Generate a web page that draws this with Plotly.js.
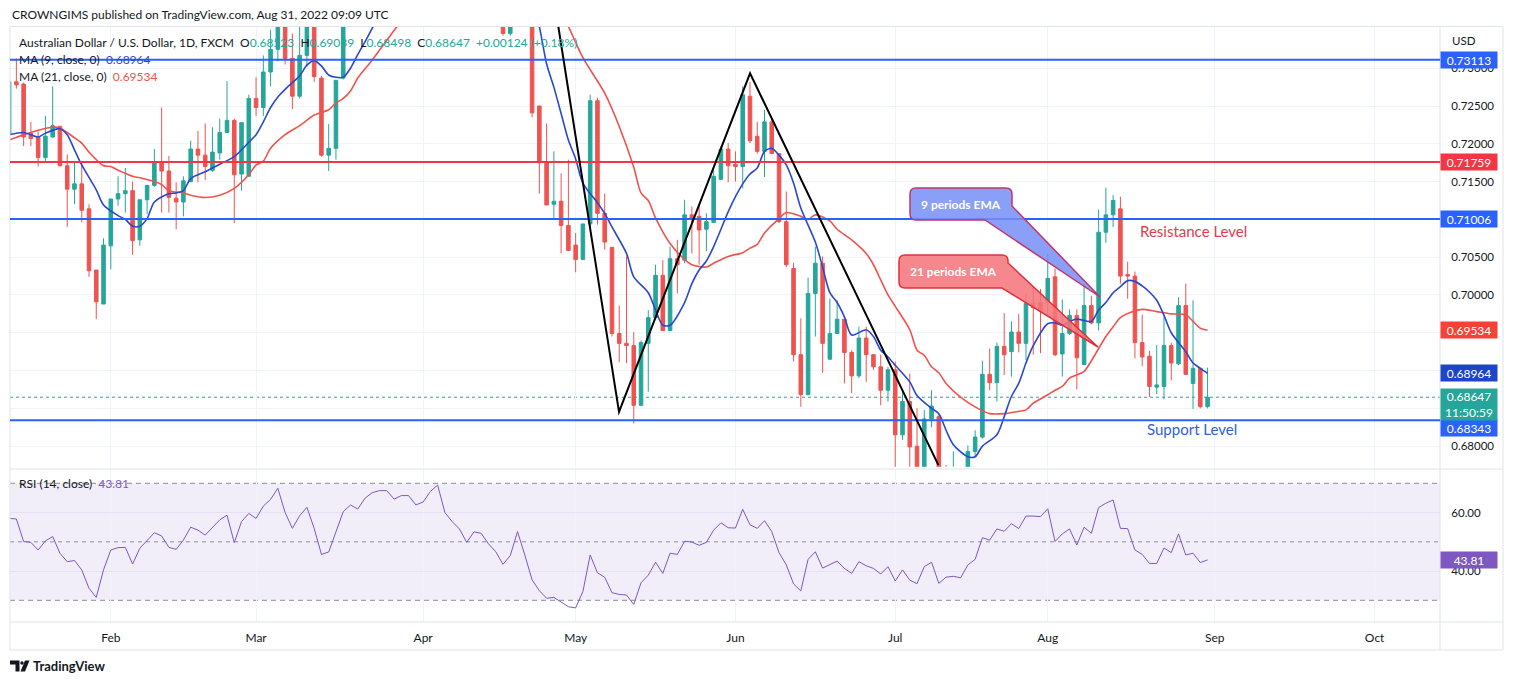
<!DOCTYPE html>
<html><head><meta charset="utf-8">
<script src="https://cdn.plot.ly/plotly-3.0.1.min.js"></script>
<style>html,body{margin:0;padding:0;background:#fff}#chart{width:1514px;height:685px}</style>
</head><body><div id="chart"></div>
<script>
// ---------- DATA ----------
const startDate = '2022-01-12', axisEndDate = '2022-10-14';
const monthNames = ['Jan','Feb','Mar','Apr','May','Jun','Jul','Aug','Sep','Oct','Nov','Dec'];
const open = [0.7212,0.7282,0.7279,0.7214,0.7209,0.7182,0.7209,0.7223,0.7171,0.7140,
0.7147,0.7114,0.7033,0.6988,0.7065,0.7127,0.7134,0.7138,0.7073,0.7126,
0.7145,0.7176,0.7164,0.7128,0.7123,0.7150,0.7193,0.7185,0.7165,0.7188,
0.7215,0.7231,0.7160,0.7157,0.7260,0.7248,0.7295,0.7325,0.7370,0.7313,
0.7263,0.7317,0.7365,0.7287,0.7185,0.7194,0.7287,0.7380,0.7400,0.7390,
0.7445,0.7455,0.7490,0.7500,0.7515,0.7510,0.7490,0.7480,0.7495,0.7570,
0.7620,0.7560,0.7490,0.7460,0.7420,0.7470,0.7455,0.7420,0.7395,0.7346,
0.7390,0.7445,0.7385,0.7250,0.7175,0.7120,0.7124,0.7092,0.7066,0.7047,
0.7094,0.7257,0.7108,0.7063,0.6949,0.6936,0.6933,0.6854,0.6936,0.6970,
0.7026,0.6953,0.7048,0.7046,0.7106,0.7104,0.7087,0.7096,0.7153,0.7193,
0.7173,0.7170,0.7263,0.7210,0.7190,0.7229,0.7187,0.7097,0.7035,0.6921,
0.6868,0.7002,0.7042,0.6915,0.6949,0.6968,0.6924,0.6893,0.6943,0.6921,
0.6905,0.6874,0.6901,0.6815,0.6859,0.6800,0.6770,0.6836,0.6839,0.6768,
0.6720,0.6758,0.6738,0.6793,0.6812,0.6895,0.6884,0.6932,0.6925,0.6951,
0.6936,0.6989,0.6990,0.6990,0.7024,0.6922,0.6949,0.6973,0.6908,0.6986,
0.6963,0.7083,0.7106,0.7114,0.7027,0.7025,0.6937,0.6919,0.6878,0.6879,
0.6933,0.6909,0.6986,0.6883,0.6903,0.68523];
const high = [0.7287,0.7313,0.7281,0.7229,0.7216,0.7237,0.7276,0.7224,0.7186,0.7175,
0.7175,0.7120,0.7033,0.7075,0.7127,0.7157,0.7168,0.7150,0.7126,0.7145,
0.7193,0.7248,0.7184,0.7149,0.7157,0.7204,0.7217,0.7227,0.7222,0.7233,
0.7283,0.7233,0.7228,0.7265,0.7288,0.7317,0.7351,0.7385,0.7440,0.7346,
0.7355,0.7385,0.7380,0.7290,0.7226,0.7284,0.7395,0.7420,0.7425,0.7460,
0.7480,0.7500,0.7510,0.7535,0.7540,0.7540,0.7505,0.7510,0.7575,0.7660,
0.7625,0.7570,0.7510,0.7470,0.7480,0.7480,0.7460,0.7430,0.7405,0.7400,
0.7460,0.7458,0.7390,0.7250,0.7227,0.7190,0.7161,0.7179,0.7082,0.7094,
0.7265,0.7261,0.7134,0.7063,0.6986,0.7051,0.6951,0.6940,0.6980,0.7040,
0.7046,0.7064,0.7073,0.7126,0.7117,0.7119,0.7108,0.7165,0.7197,0.7201,
0.7190,0.7276,0.7282,0.7229,0.7245,0.7233,0.7187,0.7137,0.7043,0.6969,
0.7023,0.7064,0.7051,0.6995,0.6993,0.6969,0.6927,0.6958,0.6958,0.6921,
0.6921,0.6905,0.6912,0.6874,0.6896,0.6850,0.6848,0.6874,0.6843,0.6775,
0.6793,0.6770,0.6801,0.6821,0.6913,0.6929,0.6937,0.6976,0.6965,0.6975,
0.7001,0.7011,0.7008,0.7054,0.7035,0.6994,0.6981,0.6981,0.7014,0.6999,
0.7113,0.7142,0.7132,0.7130,0.7044,0.7031,0.6974,0.6926,0.6934,0.6971,
0.6937,0.6997,0.7015,0.6993,0.6903,0.69039];
const low = [0.7208,0.7273,0.7197,0.7197,0.7170,0.7176,0.7208,0.7170,0.7090,0.7120,
0.7096,0.7024,0.6968,0.6988,0.7034,0.7118,0.7109,0.7053,0.7065,0.7107,
0.7143,0.7109,0.7109,0.7087,0.7104,0.7149,0.7149,0.7152,0.7163,0.7179,
0.7214,0.7095,0.7138,0.7157,0.7237,0.7237,0.7276,0.7309,0.7305,0.7246,
0.7260,0.7302,0.7282,0.7183,0.7164,0.7179,0.7285,0.7362,0.7370,0.7385,
0.7425,0.7440,0.7470,0.7460,0.7470,0.7480,0.7455,0.7460,0.7490,0.7565,
0.7545,0.7470,0.7450,0.7410,0.7400,0.7420,0.7410,0.7380,0.7343,0.7343,
0.7375,0.7375,0.7235,0.7134,0.7119,0.7099,0.7055,0.7059,0.7030,0.7046,
0.7090,0.7093,0.7060,0.6945,0.6911,0.6910,0.6830,0.6854,0.6872,0.6969,
0.6953,0.6953,0.7002,0.7042,0.7055,0.7040,0.7058,0.7096,0.7152,0.7149,
0.7150,0.7141,0.7201,0.7187,0.7156,0.7187,0.7095,0.7037,0.6912,0.6852,
0.6868,0.6945,0.6897,0.6915,0.6949,0.6883,0.6870,0.6890,0.6885,0.6901,
0.6854,0.6859,0.6763,0.6808,0.6763,0.6750,0.6760,0.6825,0.6740,0.6712,
0.6715,0.6681,0.6725,0.6786,0.6810,0.6874,0.6859,0.6894,0.6892,0.6924,
0.6914,0.6921,0.6923,0.6975,0.6919,0.6892,0.6947,0.6875,0.6907,0.6961,
0.6953,0.7069,0.7090,0.7015,0.6995,0.6916,0.6906,0.6865,0.6869,0.6862,
0.6887,0.6907,0.6894,0.6849,0.6850,0.68498];
const close = [0.7282,0.7278,0.7209,0.7207,0.7182,0.7210,0.7224,0.7171,0.7140,0.7147,
0.7112,0.7032,0.6991,0.7066,0.7127,0.7134,0.7138,0.7072,0.7126,0.7145,
0.7176,0.7164,0.7129,0.7123,0.7151,0.7193,0.7185,0.7170,0.7189,0.7215,
0.7231,0.7159,0.7228,0.7260,0.7248,0.7295,0.7325,0.7370,0.7313,0.7263,
0.7317,0.7365,0.7289,0.7185,0.7194,0.7284,0.7380,0.7400,0.7390,0.7445,
0.7455,0.7490,0.7500,0.7515,0.7510,0.7490,0.7480,0.7495,0.7570,0.7620,
0.7560,0.7490,0.7460,0.7420,0.7470,0.7455,0.7420,0.7395,0.7346,0.7390,
0.7445,0.7385,0.7241,0.7175,0.7119,0.7124,0.7092,0.7059,0.7047,0.7094,
0.7257,0.7108,0.7070,0.6949,0.6936,0.6933,0.6854,0.6937,0.6970,0.7026,
0.6953,0.7048,0.7040,0.7106,0.7101,0.7086,0.7097,0.7157,0.7193,0.7171,
0.7170,0.7265,0.7204,0.7190,0.7229,0.7187,0.7097,0.7040,0.6921,0.6868,
0.7002,0.7042,0.6936,0.6949,0.6968,0.6924,0.6893,0.6943,0.6921,0.6905,
0.6874,0.6901,0.6815,0.6859,0.6799,0.6762,0.6836,0.6853,0.6768,0.6720,
0.6758,0.6738,0.6793,0.6812,0.6895,0.6884,0.6932,0.6921,0.6951,0.6936,
0.6989,0.6983,0.6979,0.7022,0.6921,0.6949,0.6973,0.6917,0.6986,0.6963,
0.7083,0.7106,0.7125,0.7025,0.7025,0.6937,0.6918,0.6879,0.6881,0.6933,
0.6910,0.6986,0.6895,0.6903,0.68523,0.68647];
// moving averages (bar number -> value)
const ma9Bar = [0,2,4,5,7,8,9,10,12,13,15,16,17,18,19,20,22,23,24,25,27,29,31,33,34,35,36,37,38,40,41,42,43,44,45,46,47,48,49,50,51,53,55,57,59,61,63,65,67,69,71,72,73,74,75,76,77,78,79,81,82,83,85,86,88,89,90,91,93,94,95,96,97,99,100,101,102,103,104,105,106,107,108,109,111,112,113,114,115,116,118,119,120,121,122,124,125,127,128,129,130,132,133,134,136,137,138,139,140,141,143,144,145,146,147,149,150,151,152,153,154,155,156,157,158,159,160,162,163,164,165];
const ma9Val = [.7212,.7215,.7209,.7214,.7220,.7212,.7192,.7172,.7139,.7119,.7105,.7100,.7091,.7091,.7101,.7123,.7134,.7135,.7138,.7154,.7163,.7173,.7183,.7202,.7212,.7229,.7248,.7262,.7272,.7290,.7304,.7310,.7303,.7291,.7288,.7288,.7300,.7318,.7335,.7353,.7372,.7410,.7450,.7480,.7520,.7540,.7520,.7490,.7455,.7430,.7420,.7390,.7355,.7306,.7275,.7240,.7205,.7180,.7148,.7122,.7108,.7090,.7055,.7024,.7003,.6980,.6960,.6960,.6990,.7015,.7033,.7045,.7064,.7110,.7130,.7147,.7160,.7168,.7190,.7194,.7185,.7172,.7148,.7115,.7070,.7037,.7003,.6990,.6971,.6947,.6954,.6945,.6927,.6918,.6907,.6885,.6867,.6850,.6843,.6821,.6802,.6786,.6786,.6800,.6815,.6839,.6866,.6883,.6910,.6933,.6962,.6963,.6960,.6965,.6968,.6965,.6980,.6990,.7003,.7011,.7019,.7018,.7012,.7004,.6993,.6973,.6950,.6925,.6910,.6903,.68964];
const ma21Bar = [0,2,4,6,7,9,10,11,13,14,15,16,17,18,20,21,22,24,25,27,29,31,33,34,35,36,38,40,42,44,45,46,47,48,50,53,54,56,59,62,65,68,70,72,74,75,76,77,79,82,84,86,87,88,89,91,93,94,96,97,99,101,102,103,104,106,107,109,110,111,113,114,116,118,119,120,121,122,124,125,126,127,128,129,131,133,135,137,139,140,141,143,144,145,146,148,149,151,152,153,155,156,158,160,162,163,164,165];
const ma21Val = [.7205,.7212,.7218,.7222,.7221,.7208,.7201,.7189,.7171,.7170,.7165,.7161,.7157,.7155,.7150,.7146,.7138,.7135,.7132,.7129,.7132,.7141,.7159,.7172,.7177,.7194,.7212,.7224,.7238,.7245,.7254,.7260,.7270,.7287,.7311,.7350,.7363,.7390,.7430,.7460,.7475,.7470,.7455,.7435,.7408,.7390,.7372,.7355,.7314,.7267,.7223,.7169,.7135,.7125,.7102,.7068,.7047,.7040,.7037,.7042,.7051,.7056,.7062,.7067,.7082,.7101,.7109,.7104,.7100,.7106,.7098,.7087,.7073,.7055,.7040,.7020,.7000,.6985,.6954,.6927,.6920,.6905,.6897,.6883,.6865,.6852,.6843,.6843,.6846,.6848,.6857,.6868,.6874,.6879,.6890,.6899,.6913,.6945,.6958,.6970,.6979,.6981,.6978,.6975,.6974,.6965,.6956,.69534];
const rsi = [58.0,57.8,50.1,49.8,47.2,50.3,51.8,46.1,43.2,43.6,
40.4,34.1,31.0,40.4,47.2,48.0,48.1,42.4,47.8,50.3,
53.1,52.0,48.1,47.4,50.6,55.0,54.0,52.3,55.0,57.5,
59.1,49.7,56.9,59.7,58.0,62.2,64.5,68.3,60.0,54.6,
58.9,61.8,54.6,45.7,46.5,53.7,60.3,62.6,61.2,64.9,
66.8,67.5,67.5,64.6,65.8,65.8,62.6,63.6,67.2,69.4,
60.0,56.9,54.4,49.8,53.4,52.9,49.3,46.6,42.3,45.3,
53.5,45.5,37.0,33.3,30.7,31.0,29.5,27.8,27.4,33.0,
45.5,39.4,37.9,32.6,32.0,31.8,28.6,36.0,38.6,43.0,
39.2,46.1,45.7,50.2,49.9,48.8,49.8,54.0,56.5,54.8,
54.7,61.1,55.8,54.6,57.2,53.5,46.3,42.1,35.6,33.2,
44.0,46.6,41.0,42.1,43.4,40.9,39.2,43.2,41.8,40.9,
39.0,41.5,36.6,40.4,36.9,35.7,41.5,43.0,35.8,37.9,
38.2,37.7,42.1,44.0,51.4,50.6,54.4,53.6,56.2,54.5,
58.8,58.8,58.6,61.3,50.1,52.7,54.4,48.9,55.0,52.9,
61.7,63.2,64.3,54.6,54.5,47.2,45.7,42.6,42.6,47.9,
46.3,52.7,45.5,46.1,42.9,43.81];
const levelPrices = [0.73113, 0.71759, 0.71006, 0.68343];
const priceTicks = [0.68, 0.685, 0.69, 0.695, 0.70, 0.705, 0.71, 0.715, 0.72, 0.725, 0.73];
const rsiTicks = [40, 60];
const rsiLevels = [70, 50, 30];
// zig-zag drawing points (bar number, price)
const zigBar = [75.62, 83.97, 102.01, 127.94];
const zigPrice = [0.73549, 0.68454, 0.72933, 0.67749];

// ---------- BUILD ----------
function weekdays(a, b) {
  const out = []; const d = new Date(a + 'T00:00:00Z'); const e = new Date(b + 'T00:00:00Z');
  while (d <= e) { const w = d.getUTCDay(); if (w !== 0 && w !== 6) out.push(d.toISOString().slice(0, 10)); d.setUTCDate(d.getUTCDate() + 1); }
  return out;
}
const allDates = weekdays(startDate, axisEndDate);
const dates = allDates.slice(0, open.length);
const bars = dates.map((d, i) => i);
const tickVals = [], tickText = [];
for (let i = 1; i < allDates.length; i++) {
  if (allDates[i].slice(5, 7) !== allDates[i - 1].slice(5, 7)) { tickVals.push(i); tickText.push(monthNames[+allDates[i].slice(5, 7) - 1]); }
}

const W = 1514, H = 685, ML = 10, MR = 74;
const PW = W - ML - MR;
const px = x => (x - ML) / PW, py = y => 1 - y / H;
function conv(str) {
  const t = str.trim().split(/[\s,]+/); const out = []; let i = 0;
  while (i < t.length) {
    if (/^[A-Za-z]$/.test(t[i])) { out.push(t[i]); i++; }
    else { out.push(px(+t[i]).toFixed(6) + ',' + py(+t[i + 1]).toFixed(6)); i += 2; }
  }
  return out.join(' ').replace(/ ([A-Za-z]) /g, '$1').replace(/^([A-Za-z]) /, '$1');
}
const F = 'Lato, Roboto, sans-serif';
const UP = '#26A69A', DN = '#EF5350', BLUE = '#2962FF', RED = '#F23645';
const MA9C = '#2848D0', MA21C = '#F0524C', RSIC = '#7E57C2';
const last = open.length - 1;
const f5 = v => v.toFixed(5);
const chg = close[last] - close[last - 1];
const pct = chg / close[last - 1] * 100;
const valC = close[last] >= open[last] ? UP : DN;

// price-scale labels fully covered by a tag are left blank (as on the reference scale)
const tagPrices = [levelPrices[2], ma21Val[ma21Val.length - 1], ma9Val[ma9Val.length - 1], close[last]];
const priceTickText = priceTicks.map(v => tagPrices.some(t => Math.abs(t - v) < 0.0018) ? '' : f5(v));

const traces = [
  {type: 'candlestick', x: bars, open, high, low, close, text: dates, xaxis: 'x', yaxis: 'y',
   increasing: {line: {color: UP, width: 1}, fillcolor: UP},
   decreasing: {line: {color: DN, width: 1}, fillcolor: DN},
   whiskerwidth: 0, hoverinfo: 'text', showlegend: false},
  {type: 'scatter', mode: 'lines', x: ma21Bar, y: ma21Val, xaxis: 'x', yaxis: 'y',
   line: {color: MA21C, width: 1.6, shape: 'spline', smoothing: 0.8}, hoverinfo: 'skip', showlegend: false},
  {type: 'scatter', mode: 'lines', x: ma9Bar, y: ma9Val, xaxis: 'x', yaxis: 'y',
   line: {color: MA9C, width: 1.6, shape: 'spline', smoothing: 0.8}, hoverinfo: 'skip', showlegend: false},
  {type: 'scatter', mode: 'lines', x: bars, y: rsi, xaxis: 'x', yaxis: 'y2',
   line: {color: RSIC, width: 1}, hoverinfo: 'skip', showlegend: false}
];

const BORDER = '#E0E3EB';
const shapes = [];
[[10, 26.5, 1503, 26.5], [10, 469, 1503, 469], [10, 622, 1503, 622], [10, 650, 1503, 650],
 [10, 26.5, 10, 650], [1440, 26.5, 1440, 650], [1503, 26.5, 1503, 650]].forEach(s => shapes.push({
  type: 'line', xref: 'paper', yref: 'paper', x0: px(s[0]), y0: py(s[1]), x1: px(s[2]), y1: py(s[3]),
  line: {color: BORDER, width: 1}, layer: 'above'}));
shapes.push({type: 'rect', xref: 'x domain', x0: 0, x1: 1, yref: 'y2', y0: rsiLevels[2], y1: rsiLevels[0],
  fillcolor: 'rgba(126,87,194,0.10)', line: {width: 0}, layer: 'below'});
rsiLevels.forEach(v => shapes.push({type: 'line', xref: 'x domain', x0: 0, x1: 1, yref: 'y2', y0: v, y1: v,
  line: {color: '#8A8D96', width: 1, dash: v === 50 ? '4px,4px' : '5px,4px'}, layer: 'below'}));
shapes.push({type: 'line', xref: 'x domain', x0: 0, x1: 1, yref: 'y', y0: close[last], y1: close[last],
  line: {color: UP, width: 1, dash: 'dot'}, layer: 'below'});
const levelColors = [BLUE, RED, BLUE, BLUE];
levelPrices.forEach((v, k) => shapes.push({type: 'line', xref: 'x domain', x0: 0, x1: 1, yref: 'y', y0: v, y1: v,
  line: {color: levelColors[k], width: 2}, layer: 'above'}));
shapes.push({type: 'path', xref: 'x', yref: 'y',
  path: zigBar.map((b, k) => (k ? 'L' : 'M') + b + ',' + zigPrice[k]).join(''),
  line: {color: '#000000', width: 2}, layer: 'above'});
shapes.push({type: 'path', xref: 'paper', yref: 'paper',
  path: conv('M 916 188 L 1006 188 Q 1012 188 1012 194 L 1012 206 L 1100 297 L 985 220 L 916 220 Q 910 220 910 214 L 910 194 Q 910 188 916 188 Z'),
  fillcolor: 'rgba(118,142,246,0.85)', line: {color: '#C2366E', width: 1.5}, layer: 'above'});
shapes.push({type: 'path', xref: 'paper', yref: 'paper',
  path: conv('M 905 255 L 1002 255 Q 1008 255 1008 261 L 1008 263 L 1098 347 L 1002 288 L 905 288 Q 899 288 899 282 L 899 261 Q 899 255 905 255 Z'),
  fillcolor: 'rgba(245,118,124,0.88)', line: {color: '#E0303C', width: 1.5}, layer: 'above'});
shapes.push({type: 'path', xref: 'paper', yref: 'paper',
  path: conv('M 10 660.5 L 19.5 660.5 L 19.5 671.5 L 15.5 671.5 L 15.5 664.5 L 10 664.5 Z'),
  fillcolor: '#131722', line: {width: 0}});
shapes.push({type: 'circle', xref: 'paper', yref: 'paper', x0: px(20.3), x1: px(23.7), y0: py(664.7), y1: py(661.3),
  fillcolor: '#131722', line: {width: 0}});
shapes.push({type: 'path', xref: 'paper', yref: 'paper',
  path: conv('M 25 660.5 L 29.5 660.5 L 25 671.5 L 20.5 671.5 Z'),
  fillcolor: '#131722', line: {width: 0}});

function tag(y, yref, text, bg, yshift, h) {
  return {xref: 'paper', x: px(1440), xanchor: 'left', yref, y, yanchor: 'middle', yshift: yshift || 0,
    text, showarrow: false, bgcolor: bg, borderpad: 2, width: 52, height: h || 12, align: 'center',
    font: {family: F, size: 12, color: '#ffffff'}};
}
const sp = (c, t) => '<span style="color:' + c + '">' + t + '</span>';
const nb = '&nbsp;&nbsp;';
function txt(x, y, text, size, color, anchor, weight) {
  return {xref: 'paper', yref: 'paper', x: px(x), y: py(y), xanchor: anchor || 'left', yanchor: 'middle',
    showarrow: false, text, font: {family: F, size, color, weight: weight || 'normal'}};
}
const annotations = [
  txt(10, 14.5, 'CROWNGIMS published on TradingView.com, Aug 31, 2022 09:09 UTC', 12, '#131722'),
  txt(17, 42, 'Australian Dollar / U.S. Dollar, 1D, FXCM' + nb + 'O' + sp(valC, f5(open[last])) + nb + 'H' + sp(valC, f5(high[last])) +
     nb + 'L' + sp(valC, f5(low[last])) + nb + 'C' + sp(valC, f5(close[last])) + nb +
     sp(valC, (chg >= 0 ? '+' : '') + chg.toFixed(5) + ' (' + (pct >= 0 ? '+' : '') + pct.toFixed(2) + '%)'), 12, '#131722'),
  txt(17, 59.5, 'MA (9, close, 0)' + nb + sp(MA9C, f5(ma9Val[ma9Val.length - 1])), 12, '#131722'),
  txt(17, 76.5, 'MA (21, close, 0)' + nb + sp(MA21C, f5(ma21Val[ma21Val.length - 1])), 12, '#131722'),
  txt(17, 483.5, 'RSI (14, close)' + nb + sp(RSIC, rsi[last].toFixed(2)), 12, '#131722'),
  txt(1450, 40.5, 'USD', 11.5, '#131722'),
  txt(961, 204, '9 periods EMA', 12, '#ffffff', 'center', 'bold'),
  txt(953.5, 271.5, '21 periods EMA', 12, '#ffffff', 'center', 'bold'),
  txt(1138, 231, 'Resistance Level', 15, '#E33B4B'),
  txt(1145, 429, 'Support Level', 15, '#2F5FDC'),
  txt(31, 666, '<b>TradingView</b>', 13, '#131722'),
  tag(levelPrices[0], 'y', f5(levelPrices[0]), BLUE),
  tag(levelPrices[1], 'y', f5(levelPrices[1]), RED),
  tag(levelPrices[2], 'y', f5(levelPrices[2]), BLUE),
  tag(ma21Val[ma21Val.length - 1], 'y', f5(ma21Val[ma21Val.length - 1]), '#F44336'),
  tag(ma9Val[ma9Val.length - 1], 'y', f5(ma9Val[ma9Val.length - 1]), '#1E45C8'),
  tag(levelPrices[3], 'y', f5(levelPrices[3]), BLUE, -8),
  tag(close[last], 'y', f5(close[last]) + '<br>11:50:59', UP, -7, 27),
  tag(rsi[last], 'y2', rsi[last].toFixed(2), RSIC)
];

const GRID = '#F0F3FA';
const layout = {
  width: W, height: H, margin: {l: ML, r: MR, t: 0, b: 0},
  paper_bgcolor: '#ffffff', plot_bgcolor: '#ffffff',
  font: {family: F, size: 12, color: '#131722'},
  showlegend: false, dragmode: false,
  xaxis: {anchor: 'y2', range: [0.124, 197.0], tickmode: 'array', tickvals: tickVals, ticktext: tickText,
    showgrid: true, gridcolor: GRID, zeroline: false, showline: false, ticks: 'outside', ticklen: 5,
    tickcolor: 'rgba(0,0,0,0)', tickfont: {family: F, size: 12, color: '#131722'},
    rangeslider: {visible: false}, fixedrange: true},
  yaxis: {domain: [py(466.7), py(26.5)], anchor: 'x', side: 'right', range: [0.67728, 0.73552],
    tickmode: 'array', tickvals: priceTicks, ticktext: priceTickText, showgrid: true, gridcolor: GRID, zeroline: false,
    ticks: 'outside', ticklen: 8, tickcolor: 'rgba(0,0,0,0)', tickfont: {family: F, size: 11.5, color: '#131722'}, fixedrange: true},
  yaxis2: {domain: [py(622), py(469)], anchor: 'x', side: 'right', range: [22.58, 74.89],
    tickmode: 'array', tickvals: rsiTicks, ticktext: rsiTicks.map(v => v.toFixed(2)), showgrid: true, gridcolor: '#E6E1F2',
    zeroline: false, ticks: 'outside', ticklen: 8, tickcolor: 'rgba(0,0,0,0)', tickfont: {family: F, size: 11.5, color: '#131722'}, fixedrange: true},
  shapes, annotations
};
Plotly.newPlot('chart', traces, layout, {displayModeBar: false, staticPlot: true});
</script>
</body></html>
